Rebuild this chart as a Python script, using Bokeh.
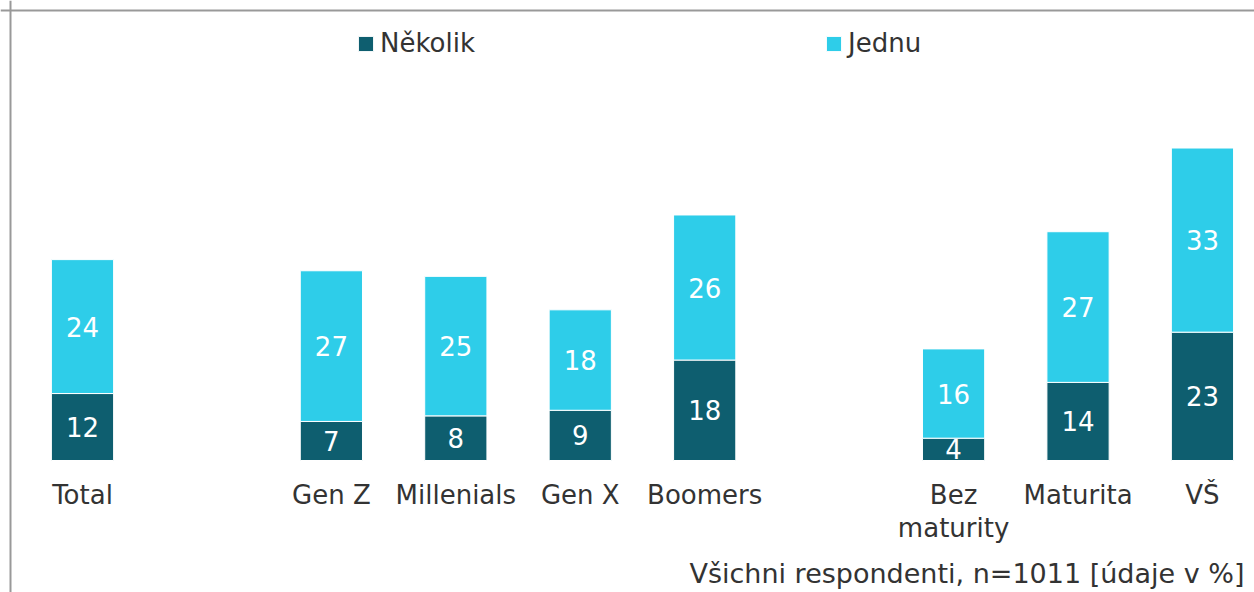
from bokeh.plotting import figure
from bokeh.models import (ColumnDataSource, Legend, LegendItem, Span, Range1d)
from bokeh.embed import file_html
from bokeh.resources import INLINE
from bokeh.core.properties import value

# ---------------- data ----------------
groups = [
    ["Total"],
    ["Gen Z", "Millenials", "Gen X", "Boomers"],
    ["Bez\nmaturity", "Maturita", "VŠ"],
]
nekolik = [12, 7, 8, 9, 18, 4, 14, 23]
jednu = [24, 27, 25, 18, 26, 16, 27, 33]
series_names = ["Několik", "Jednu"]
footer = "Všichni respondenti, n=1011 [údaje v %]"

# ---------------- layout helpers ----------------
xs, labels = [], []
pos = 0
for g in groups:
    for c in g:
        xs.append(pos)
        labels.append(c)
        pos += 1
    pos += 1  # empty slot between groups

DARK = "#0E5E6F"
LIGHT = "#2ECDE9"
TEXT = "#333333"
FONT = "DejaVu Sans"

W, H = 1254, 592
PX_X = 124.44          # pixels per category slot
PX_Y = 5.58            # pixels per percent
BASE = 460             # pixel row of the bar baseline
x_start = -82 / PX_X
x_end = x_start + W / PX_X
y_start = -(H - BASE) / PX_Y
y_end = BASE / PX_Y


def ypix(row):
    """data y for a pixel row measured from the top"""
    return (BASE - row) / PX_Y


top = [a + b for a, b in zip(nekolik, jednu)]
src = ColumnDataSource(dict(
    x=xs,
    nek=nekolik,
    jed=jednu,
    top=top,
    mid1=[a / 2 for a in nekolik],
    mid2=[a + b / 2 for a, b in zip(nekolik, jednu)],
    nek_s=[str(v) for v in nekolik],
    jed_s=[str(v) for v in jednu],
    lab=labels,
))

p = figure(width=W, height=H,
           x_range=Range1d(x_start, x_end), y_range=Range1d(y_start, y_end),
           output_backend="svg", toolbar_location=None,
           min_border=0, x_axis_location=None, y_axis_location=None,
           outline_line_color=None,
           background_fill_color="white", border_fill_color="white")
p.xgrid.visible = False
p.ygrid.visible = False

r1 = p.vbar(x="x", bottom=0, top="nek", width=0.5, fill_color=DARK,
            line_color="white", line_width=1, source=src)
r2 = p.vbar(x="x", bottom="nek", top="top", width=0.5, fill_color=LIGHT,
            line_color="white", line_width=1, source=src)

for ycol, tcol in (("mid1", "nek_s"), ("mid2", "jed_s")):
    p.text(x="x", y=ycol, text=tcol, source=src, text_align="center",
           text_baseline="middle", text_color="white",
           text_font=value(FONT), text_font_size="26px")

# category labels under the bars
p.text(x="x", y=ypix(479), text="lab", source=src, text_align="center",
       text_baseline="top", text_color=TEXT, text_font=value(FONT),
       text_font_size="26px", text_line_height=1.13)

# footer note
p.text(x=[x_end - 10 / PX_X], y=[ypix(573)], text=[footer],
       text_align="right", text_baseline="middle", text_color=TEXT,
       text_font=value(FONT), text_font_size="27px")

legend = Legend(items=[LegendItem(label=series_names[0], renderers=[r1]),
                       LegendItem(label=series_names[1], renderers=[r2])],
                orientation="horizontal", location=(356, H - 58),
                glyph_width=19, glyph_height=19, label_standoff=5,
                spacing=349, padding=0, margin=0,
                label_text_font=FONT, label_text_font_size="26px",
                label_text_color=TEXT, border_line_color=None,
                background_fill_alpha=0)
p.add_layout(legend)

p.add_layout(Span(location=x_start + 10 / PX_X, dimension="height",
                  line_color="#999999", line_width=2))
p.add_layout(Span(location=y_end - 10 / PX_Y, dimension="width",
                  line_color="#999999", line_width=2))

open("out.html", "w").write(file_html(p, INLINE))
